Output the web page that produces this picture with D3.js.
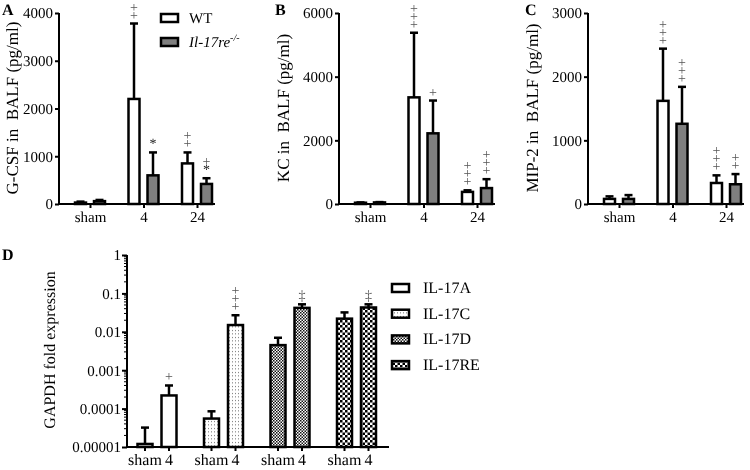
<!DOCTYPE html>
<html>
<head>
<meta charset="utf-8">
<script src="https://cdn.jsdelivr.net/npm/d3@7"></script>
<style>
  body { margin: 0; background: #fff; }
  svg { will-change: transform; }
  svg text { font-family: "Liberation Serif", "Times New Roman", Times, serif; text-rendering: geometricPrecision; }
</style>
</head>
<body>
<script>
// categories / tick labels
const times = ["sham", "4", "24"];
const genes = ["IL-17A", "IL-17C", "IL-17D", "IL-17RE"];
const dTimes = ["sham", "4"];
const dTicks = [1, 0.1, 0.01, 0.001, 0.0001, 0.00001];
const dTickLabels = ["1", "0.1", "0.01", "0.001", "0.0001", "0.00001"];

// panel A : G-CSF
const gcsfWT = [30, 2200, 850];
const gcsfWTsd = [20, 1580, 230];
const gcsfKO = [60, 600, 420];
const gcsfKOsd = [25, 480, 120];
const gcsfWTmark = ["", "++", "++"];
const gcsfKOmark = ["", "*", "+*"];

// panel B : KC
const kcWT = [40, 3350, 380];
const kcWTsd = [10, 2030, 50];
const kcKO = [50, 2220, 500];
const kcKOsd = [10, 1030, 280];
const kcWTmark = ["", "+++", "+++"];
const kcKOmark = ["", "+", "+++"];

// panel C : MIP-2
const mipWT = [80, 1620, 330];
const mipWTsd = [40, 820, 120];
const mipKO = [80, 1260, 310];
const mipKOsd = [60, 580, 160];
const mipWTmark = ["", "+++", "+++"];
const mipKOmark = ["", "+++", "++"];

// panel D : fold expression (sham, 4) per gene
const foldMean = [[0.000012, 0.00022], [0.000055, 0.015], [0.0045, 0.042], [0.022, 0.043]];
const foldTop = [[0.000032, 0.0004], [0.000085, 0.027], [0.007, 0.052], [0.032, 0.052]];
const foldMark = [["", "+"], ["", "+++"], ["", "‡"], ["", "‡"]];

const svg = d3.select("body").append("svg").attr("width", 750).attr("height", 470)

const defs = svg.append("defs")
// sparse dots
const pc = defs.append("pattern").attr("id", "pC").attr("patternUnits", "userSpaceOnUse")
    .attr("width", 3).attr("height", 3.5)
pc.append("rect").attr("width", 3).attr("height", 3.5).attr("fill", "#fff")
pc.append("rect").attr("x", 1).attr("y", 1).attr("width", 0.9).attr("height", 0.9).attr("fill", "#444")
// fine checker
const pd = defs.append("pattern").attr("id", "pD").attr("patternUnits", "userSpaceOnUse")
    .attr("width", 3).attr("height", 3)
pd.append("rect").attr("width", 3).attr("height", 3).attr("fill", "#fff")
pd.append("rect").attr("width", 1.5).attr("height", 1.5).attr("fill", "#111")
pd.append("rect").attr("x", 1.5).attr("y", 1.5).attr("width", 1.5).attr("height", 1.5).attr("fill", "#111")
// coarse checker
const pr = defs.append("pattern").attr("id", "pRE").attr("patternUnits", "userSpaceOnUse")
    .attr("width", 5).attr("height", 5)
pr.append("rect").attr("width", 5).attr("height", 5).attr("fill", "#fff")
pr.append("rect").attr("width", 2.5).attr("height", 2.5).attr("fill", "#000")
pr.append("rect").attr("x", 2.5).attr("y", 2.5).attr("width", 2.5).attr("height", 2.5).attr("fill", "#000")
const geneFill = ["#fff", "url(#pC)", "url(#pD)", "url(#pRE)"]

// stacked annotation symbols above the error bar (one text, one line per symbol)
let drawMark = (g, str, cx, yTop) => {
    if (!str) return
    const chars = str.split("")
    const n = chars.length
    const t = g.append("text")
        .attr("text-anchor", "middle").attr("font-size", 14).attr("fill", "#555")
    chars.forEach((c, i) => {
        t.append("tspan").attr("x", cx)
            .attr("y", yTop - 4 - (n - 1 - i) * 8)
            .attr("fill", c === "*" ? "#222" : "#555")
            .text(c)
    })
}

let styleAxis = (a, fs) => {
    a.attr("font-family", null)
    a.select(".domain").attr("stroke-width", 2)
    a.selectAll(".tick line").attr("stroke-width", 2)
    a.selectAll("text").attr("font-size", fs).attr("fill", "#000")
}

let drawBarPanel = (opt) => {
    const g = svg.append("g")
    const x = d3.scalePoint().domain(times).range([opt.x0 + 31, opt.x0 + 138])
    const y = d3.scaleLinear().domain([0, opt.max]).range([204, 13])

    const series = [
        {v: opt.wt, sd: opt.wtsd, mk: opt.wtmk, fill: "#fff", off: -9.5},
        {v: opt.ko, sd: opt.kosd, mk: opt.komk, fill: "#7f7f7f", off: 9.5}
    ]
    const bw = 11
    series.forEach(s => {
        times.forEach((t, i) => {
            const cx = x(t) + s.off
            const top = y(s.v[i] + s.sd[i])
            // error bar
            g.append("line").attr("x1", cx).attr("x2", cx)
                .attr("y1", y(s.v[i])).attr("y2", top)
                .attr("stroke", "#000").attr("stroke-width", 2.5)
            g.append("line").attr("x1", cx - 4).attr("x2", cx + 4)
                .attr("y1", top).attr("y2", top)
                .attr("stroke", "#000").attr("stroke-width", 2.5)
            g.append("rect")
                .attr("x", cx - bw / 2).attr("width", bw)
                .attr("y", y(s.v[i])).attr("height", Math.max(0, y(0) - y(s.v[i])))
                .attr("fill", s.fill).attr("stroke", "#000").attr("stroke-width", 2.5)
            drawMark(g, s.mk[i], cx, top)
        })
    })

    const ya = g.append("g").attr("transform", "translate(" + opt.x0 + ",0)")
        .call(d3.axisLeft(y).tickValues(opt.ticks).tickSize(4).tickPadding(2).tickFormat(d3.format("d")))
    const xa = g.append("g").attr("transform", "translate(0,204)")
        .call(d3.axisBottom(x).tickSize(4).tickPadding(3).tickSizeOuter(0))
    styleAxis(ya, 15)
    styleAxis(xa, 15)
    xa.select(".domain").attr("d", "M" + opt.x0 + ",0H" + (opt.x0 + 156))
    ya.select(".domain").attr("d", "M0,204V13")

    g.append("text")
        .attr("transform", "translate(" + opt.titleX + ",108) rotate(-90)")
        .attr("text-anchor", "middle").attr("font-size", 17)
        .style("white-space", "pre")
        .text(opt.title)
    g.append("text").attr("x", opt.letterX).attr("y", 15)
        .attr("font-weight", "bold").attr("font-size", 16).text(opt.letter)
}

drawBarPanel({x0: 59, max: 4000, ticks: [0, 1000, 2000, 3000, 4000],
    wt: gcsfWT, wtsd: gcsfWTsd, wtmk: gcsfWTmark, ko: gcsfKO, kosd: gcsfKOsd, komk: gcsfKOmark,
    title: "G-CSF in  BALF (pg/ml)", titleX: 18, letter: "A", letterX: 2})
drawBarPanel({x0: 339, max: 6000, ticks: [0, 2000, 4000, 6000],
    wt: kcWT, wtsd: kcWTsd, wtmk: kcWTmark, ko: kcKO, kosd: kcKOsd, komk: kcKOmark,
    title: "KC in  BALF (pg/ml)", titleX: 289, letter: "B", letterX: 275})
drawBarPanel({x0: 588, max: 3000, ticks: [0, 1000, 2000, 3000],
    wt: mipWT, wtsd: mipWTsd, wtmk: mipWTmark, ko: mipKO, kosd: mipKOsd, komk: mipKOmark,
    title: "MIP-2 in  BALF (pg/ml)", titleX: 538, letter: "C", letterX: 525})

// legend for A
const legA = svg.append("g")
;[["#fff", 18], ["#7f7f7f", 42]].forEach(d => {
    legA.append("rect").attr("x", 161).attr("y", d[1] - 4).attr("width", 17).attr("height", 8)
        .attr("fill", d[0]).attr("stroke", "#000").attr("stroke-width", 2.5)
})
legA.append("text").attr("x", 189).attr("y", 23).attr("font-size", 15).text("WT")
const koT = legA.append("text").attr("x", 189).attr("y", 47).attr("font-size", 15).attr("font-style", "italic")
koT.append("tspan").text("Il-17re")
koT.append("tspan").attr("dy", -6).attr("font-size", 10).text("-/-")

// ---------------- panel D ----------------
const gd = svg.append("g")
const xg = d3.scaleBand().domain(genes).range([123.75, 389.75]).padding(0)
const yl = d3.scaleLog().domain([0.00001, 1]).range([447, 255])
const dbw = 15

genes.forEach((gene, gi) => {
    dTimes.forEach((t, ti) => {
        const cx = xg(gene) + xg.bandwidth() / 2 + (ti === 0 ? -12 : 12)
        const top = yl(foldTop[gi][ti])
        gd.append("line").attr("x1", cx).attr("x2", cx)
            .attr("y1", yl(foldMean[gi][ti])).attr("y2", top)
            .attr("stroke", "#000").attr("stroke-width", 2.5)
        gd.append("line").attr("x1", cx - 4).attr("x2", cx + 4)
            .attr("y1", top).attr("y2", top)
            .attr("stroke", "#000").attr("stroke-width", 2.5)
        gd.append("rect")
            .attr("x", cx - dbw / 2).attr("width", dbw)
            .attr("y", yl(foldMean[gi][ti])).attr("height", 447 - yl(foldMean[gi][ti]))
            .attr("fill", geneFill[gi]).attr("stroke", "#000").attr("stroke-width", 2.5)
        drawMark(gd, foldMark[gi][ti], cx, top)
        // tick + label
        gd.append("line").attr("x1", cx).attr("x2", cx).attr("y1", 447).attr("y2", 451)
            .attr("stroke", "#000").attr("stroke-width", 2)
        gd.append("text").attr("x", cx).attr("y", 465).attr("text-anchor", "middle")
            .attr("font-size", 16).text(t)
    })
})

// minor ticks on log axis
const minor = []
for (let e = -5; e < 0; e++) {
    for (let m = 2; m <= 9; m++) minor.push(m * Math.pow(10, e))
}
gd.selectAll(".minor").data(minor).enter().append("line")
    .attr("x1", 124).attr("x2", 127)
    .attr("y1", d => yl(d)).attr("y2", d => yl(d))
    .attr("stroke", "#000").attr("stroke-width", 1)

const yda = gd.append("g").attr("transform", "translate(127,0)")
    .call(d3.axisLeft(yl).tickValues(dTicks).tickSize(5).tickPadding(1)
        .tickFormat((d, i) => dTickLabels[i]))
styleAxis(yda, 15)
yda.select(".domain").attr("d", "M0,447V255")
gd.append("line").attr("x1", 126).attr("x2", 389).attr("y1", 447).attr("y2", 447)
    .attr("stroke", "#000").attr("stroke-width", 2)

gd.append("text").attr("transform", "translate(55,350) rotate(-90)")
    .attr("text-anchor", "middle").attr("font-size", 16).text("GAPDH fold expression")
gd.append("text").attr("x", 2).attr("y", 260).attr("font-weight", "bold").attr("font-size", 16).text("D")

// legend D
genes.forEach((gene, i) => {
    const ly = 288 + i * 25.7
    gd.append("rect").attr("x", 392).attr("y", ly - 4).attr("width", 17).attr("height", 8)
        .attr("fill", geneFill[i]).attr("stroke", "#000").attr("stroke-width", 2.5)
    gd.append("text").attr("x", 423).attr("y", ly + 5).attr("font-size", 16).text(gene)
})
</script>
</body>
</html>
